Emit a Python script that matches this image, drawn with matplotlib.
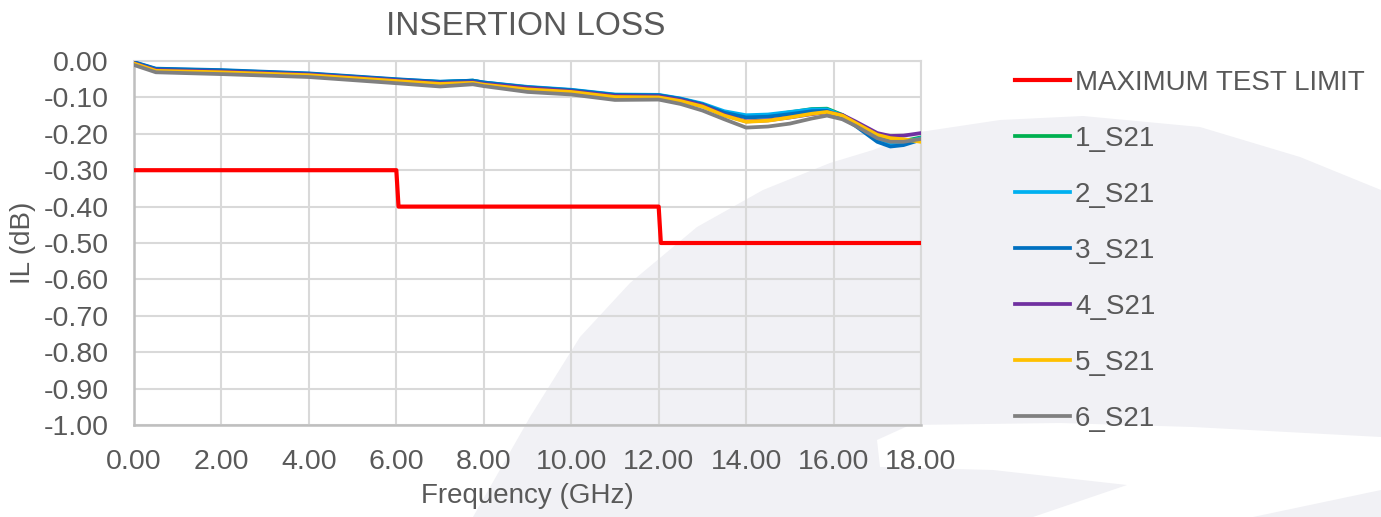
import matplotlib
matplotlib.use('Agg')
from matplotlib import pyplot as plt
from matplotlib.patches import Polygon

# frequency points (GHz)
freq = [0.0, 0.5, 2.0, 4.0, 6.0, 7.0, 7.75, 8.0, 9.0, 10.0, 11.0, 12.0, 12.5,
        13.0, 13.5, 14.0, 14.5, 15.0, 15.5, 15.85, 16.2, 16.5, 17.0, 17.3, 17.6, 18.0]

s21_1 = [-0.005, -0.023, -0.027, -0.036, -0.052, -0.058, -0.054, -0.060, -0.073, -0.081, -0.094, -0.095, -0.105,
         -0.119, -0.141, -0.152, -0.150, -0.141, -0.132, -0.131, -0.148, -0.170, -0.210, -0.222, -0.220, -0.210]
s21_2 = [-0.004, -0.022, -0.026, -0.035, -0.051, -0.057, -0.054, -0.059, -0.071, -0.079, -0.092, -0.093, -0.103,
         -0.117, -0.138, -0.149, -0.147, -0.140, -0.133, -0.133, -0.150, -0.172, -0.215, -0.228, -0.224, -0.212]
s21_3 = [-0.003, -0.021, -0.025, -0.034, -0.050, -0.057, -0.054, -0.059, -0.072, -0.080, -0.093, -0.094, -0.104,
         -0.119, -0.142, -0.155, -0.153, -0.146, -0.138, -0.137, -0.154, -0.178, -0.222, -0.235, -0.231, -0.216]
s21_4 = [-0.006, -0.025, -0.029, -0.037, -0.053, -0.061, -0.058, -0.063, -0.074, -0.083, -0.096, -0.097, -0.107,
         -0.122, -0.148, -0.166, -0.163, -0.155, -0.146, -0.141, -0.148, -0.166, -0.198, -0.206, -0.205, -0.198]
s21_5 = [-0.007, -0.027, -0.031, -0.039, -0.055, -0.063, -0.060, -0.065, -0.078, -0.085, -0.099, -0.100, -0.110,
         -0.125, -0.150, -0.167, -0.164, -0.155, -0.145, -0.140, -0.150, -0.170, -0.203, -0.212, -0.215, -0.222]
s21_6 = [-0.011, -0.031, -0.036, -0.044, -0.061, -0.070, -0.064, -0.069, -0.085, -0.092, -0.107, -0.106, -0.118,
         -0.136, -0.160, -0.183, -0.180, -0.172, -0.158, -0.150, -0.160, -0.178, -0.212, -0.222, -0.222, -0.214]

limit_freq = [0.0, 6.0, 6.05, 12.0, 12.05, 18.0]
limit_vals = [-0.30, -0.30, -0.40, -0.40, -0.50, -0.50]

labels = ['1_S21', '2_S21', '3_S21', '4_S21', '5_S21', '6_S21']
colors = ['#00B050', '#00B0F0', '#0070C0', '#7030A0', '#FFC000', '#808080']

xticks = [0, 2, 4, 6, 8, 10, 12, 14, 16, 18]
yticks = [0.0, -0.1, -0.2, -0.3, -0.4, -0.5, -0.6, -0.7, -0.8, -0.9, -1.0]

plt.rcParams['font.family'] = ['Liberation Sans', 'DejaVu Sans']
txt = '#595959'
W, H = 1381, 517

fig = plt.figure(figsize=(W / 100, H / 100), dpi=100)

# faint background swoosh (pixel coords, y from top)
swoosh_a = [(473, 517), (530, 417), (580, 337), (630, 283), (697, 227), (763, 190), (830, 163),
            (873, 150), (920, 132), (1000, 120), (1083, 116), (1200, 127), (1300, 157), (1381, 190),
            (1381, 437), (1193, 427), (1060, 423), (910, 425), (877, 440), (880, 467), (993, 470),
            (1127, 485), (1033, 517)]
swoosh_b = [(1253, 517), (1381, 490), (1381, 517)]
for pts in (swoosh_a, swoosh_b):
    fig.patches.append(Polygon([(x / W, 1 - y / H) for x, y in pts], closed=True,
                               transform=fig.transFigure, facecolor='#f1f1f5',
                               edgecolor='none', zorder=-1))

ax = fig.add_axes([134 / W, 1 - 425 / H, (921 - 134) / W, (425 - 61) / H])
ax.patch.set_alpha(0)

ax.plot(limit_freq, limit_vals, color='#FF0000', lw=3, label='MAXIMUM TEST LIMIT', zorder=3)
for vals, lab, c in zip([s21_1, s21_2, s21_3, s21_4, s21_5, s21_6], labels, colors):
    ax.plot(freq, vals, color=c, lw=2.7, label=lab, zorder=3, solid_joinstyle='round')

ax.set_xlim(0, 18)
ax.set_ylim(-1.0, 0.0)
ax.set_xticks(xticks)
ax.set_yticks(yticks)
ax.set_xticklabels(['%.2f' % v for v in xticks])
ax.set_yticklabels(['%.2f' % v if v != 0 else '0.00' for v in yticks])
ax.tick_params(length=0, labelsize=20.5, labelcolor=txt)
ax.tick_params(axis='y', pad=18)
ax.tick_params(axis='x', pad=17)
ax.grid(True, color='#D9D9D9', lw=1.5, zorder=0)
ax.set_axisbelow(True)
for side in ('top', 'right'):
    ax.spines[side].set_color('#D9D9D9')
    ax.spines[side].set_linewidth(1.5)
for side in ('left', 'bottom'):
    ax.spines[side].set_color('#BFBFBF')
    ax.spines[side].set_linewidth(1.8)

fig.text(526 / W, 1 - 27 / H, 'INSERTION LOSS', fontsize=24, color=txt, ha='center', va='center')
fig.text(527 / W, 1 - 496 / H, 'Frequency (GHz)', fontsize=20, color=txt, ha='center', va='center')
fig.text(23 / W, 1 - 243 / H, 'IL (dB)', fontsize=20, color=txt, ha='center', va='center', rotation=90)

leg = ax.legend(loc='upper left', bbox_to_anchor=(1015 / W, 1 - 70 / H), bbox_transform=fig.transFigure,
                frameon=False, fontsize=20, handlelength=1.98, handletextpad=0.18,
                labelspacing=1.08, borderpad=0, borderaxespad=0)
for t in leg.get_texts():
    t.set_color(txt)

fig.savefig('out.png', dpi=100)
